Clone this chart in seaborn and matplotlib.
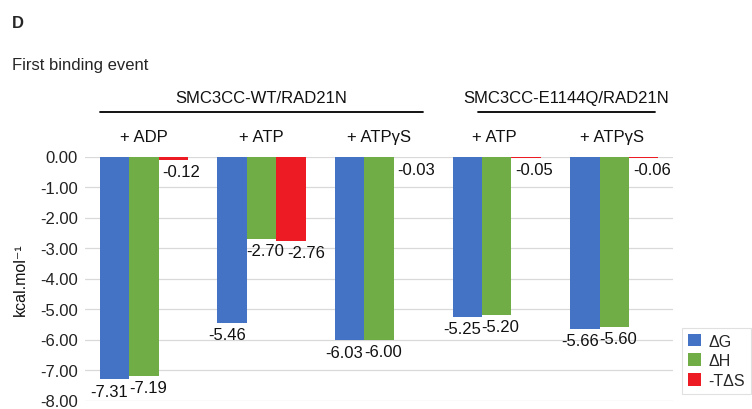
import matplotlib
matplotlib.use("Agg")
import matplotlib.pyplot as plt
import matplotlib.transforms as mtransforms
from matplotlib.patches import Patch
from matplotlib.ticker import FuncFormatter, MultipleLocator
import seaborn as sns
import pandas as pd

# Thermodynamic parameters of the first binding event (kcal/mol)
conditions = ["+ ADP", "+ ATP", "+ ATPγS", "+ ATP ", "+ ATPγS "]
terms = ["ΔG", "ΔH", "-TΔS"]
dG = [-7.31, -5.46, -6.03, -5.25, -5.66]
dH = [-7.19, -2.70, -6.00, -5.20, -5.60]
TdS = [-0.12, -2.76, -0.03, -0.05, -0.06]
constructs = ["SMC3CC-WT/RAD21N", "SMC3CC-E1144Q/RAD21N"]
construct_conditions = [3, 2]
colors = ["#4472C4", "#70AD47", "#ED1C24"]

df = pd.DataFrame({
    "condition": conditions * 3,
    "term": [t for t in terms for _ in conditions],
    "value": dG + dH + TdS,
})

sns.set_theme(style="white")
plt.rcParams["font.family"] = ["Liberation Sans", "DejaVu Sans"]
plt.rcParams["font.size"] = 12

fig = plt.figure(figsize=(7.52, 4.10), dpi=100)
ax_top, ax_bot = 157.5, 401.5
ax = fig.add_axes([85 / 752, 1 - ax_bot / 410, 588 / 752, (ax_bot - ax_top) / 410])

sns.barplot(data=df, x="condition", y="value", hue="term", order=conditions,
            hue_order=terms, palette=colors, width=0.75, saturation=1,
            errorbar=None, legend=False, ax=ax, zorder=3,
            linewidth=0, edgecolor="none")

ax.set_ylim(-8, 0)
ax.set_xlim(-0.5, len(conditions) - 0.5)
ax.yaxis.set_major_locator(MultipleLocator(1))
ax.yaxis.set_major_formatter(FuncFormatter(lambda v, p: f"{abs(v):.2f}" if abs(v) < 1e-9 else f"{v:.2f}"))
ax.grid(axis="y", color="#d9d9d9", lw=0.9, zorder=0)
ax.grid(axis="x", visible=False)
for s in ax.spines.values():
    s.set_visible(False)
ax.tick_params(axis="y", length=0, pad=5, labelsize=12, colors="#222222")
ax.xaxis.tick_top()
ax.tick_params(axis="x", length=0, pad=9, labelsize=12, colors="#111111")
ax.set_xlabel("")
ax.set_ylabel("")

# value labels under the end of each bar
dx_pts = {0: -3.6, 1: 2.9, 2: 5.8}
for hi, cont in enumerate(ax.containers):
    for ci, bar in enumerate(cont):
        val = df[(df.term == terms[hi]) & (df.condition == conditions[ci])].value.iloc[0]
        dx = dx_pts[hi]
        if hi == 2 and abs(TdS[ci] - dH[ci]) < 0.5:
            dx += 5.5
        ax.annotate(f"{val:.2f}", xy=(bar.get_x() + bar.get_width() / 2, val),
                    xytext=(dx, -3), textcoords="offset points",
                    ha="center", va="top", fontsize=12, color="#111111",
                    annotation_clip=False, zorder=5)

# construct headers with underline above the condition labels
trans = mtransforms.blended_transform_factory(ax.transData, ax.transAxes)
h = ax_bot - ax_top
start = 0
line_ext = [(-0.37, 0.37), (-0.16, 0.35)]
for name, n, (l, r) in zip(constructs, construct_conditions, line_ext):
    x0 = start + l
    x1 = start + n - 1 + r
    yl = (ax_bot - 113) / h
    ax.plot([x0, x1], [yl, yl], color="black", lw=1.3, transform=trans,
            clip_on=False)
    ax.text((x0 + x1) / 2, (ax_bot - 106) / h, name, transform=trans,
            ha="center", va="bottom", fontsize=12, color="#111111")
    start += n

fig.text(12 / 752, 1 - 28 / 410, "D", fontsize=12, fontweight="bold",
         va="baseline", ha="left")
fig.text(12 / 752, 1 - 70 / 410, "First binding event", fontsize=12,
         va="baseline", ha="left")
fig.text(20 / 752, 1 - 280 / 410, "kcal.mol⁻¹", rotation=90, fontsize=11.5,
         ha="center", va="center", color="#111111")

handles = [Patch(facecolor=c, edgecolor="none") for c in colors]
leg = fig.legend(handles, terms, loc="upper left",
                 bbox_to_anchor=(682 / 752, 1 - 329 / 410), frameon=True,
                 fontsize=11.5, handlelength=0.85, handleheight=0.85,
                 handletextpad=0.45, labelspacing=0.3, borderpad=0.35,
                 borderaxespad=0, fancybox=False)
leg.get_frame().set_edgecolor("#d9d9d9")
leg.get_frame().set_linewidth(0.8)

fig.savefig("out.png", dpi=100)
